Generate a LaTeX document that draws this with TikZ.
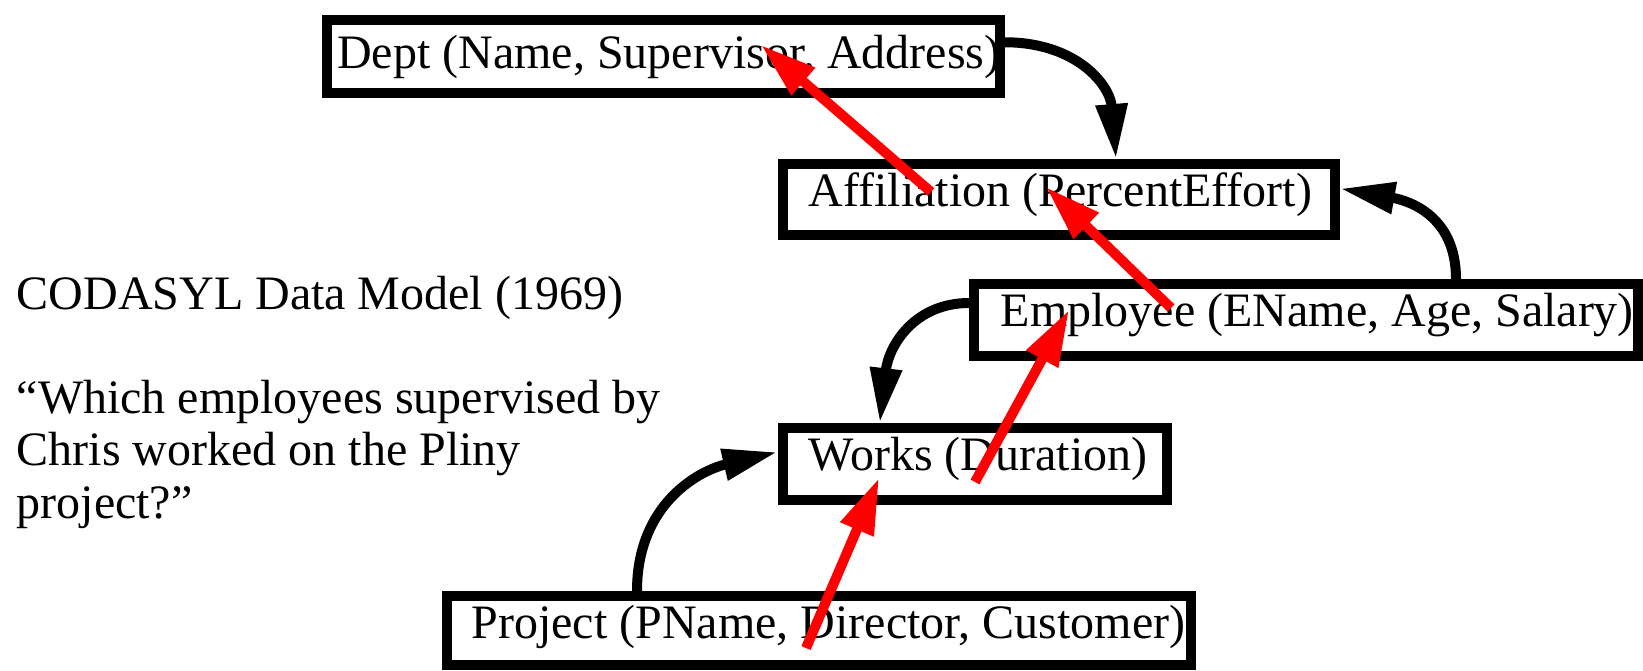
\documentclass[tikz,border=0pt]{standalone}
\usepackage{fontspec}
\setmainfont{Liberation Serif}
\usetikzlibrary{arrows.meta}
\begin{document}
\begin{tikzpicture}[x=1pt,y=-1pt,
  record/.style={draw=black, line width=10pt, inner sep=0pt, rectangle},
  txt/.style={anchor=base west, inner sep=0pt, font=\fontsize{48}{52.5}\selectfont},
  link/.style={black, line width=10pt, -{Triangle[length=55pt,width=30pt]}},
  query/.style={red, line width=10pt, -{Triangle[length=56pt,width=34pt]}}]
\useasboundingbox (0,0) rectangle (1643,670);

% record types
\node[record, minimum width=672.5pt, minimum height=72.5pt] (dept) at (663.25,56.25) {};
\node[record, minimum width=552pt, minimum height=71pt] (aff) at (1059,199.5) {};
\node[record, minimum width=664pt, minimum height=72pt] (emp) at (1306,320) {};
\node[record, minimum width=384.5pt, minimum height=72pt] (works) at (974.75,464) {};
\node[record, minimum width=744pt, minimum height=69pt] (proj) at (819,630.5) {};

\node[txt] (deptT) at (337,68.3) {Dept (Name, Supervisor, Address)};
\node[txt] (affT) at (808.6,206) {Affiliation (PercentEffort)};
\node[txt] (empT) at (1000.6,326) {Employee (EName, Age, Salary)};
\node[txt] (worksT) at (808.7,470) {Works (Duration)};
\node[txt] (projT) at (471.4,638.3) {Project (PName, Director, Customer)};

% caption and query
\node[txt] (title) at (16.5,309) {CODASYL Data Model (1969)};
\node[txt] (question) at (16.5,413) {\vtop{\hbox{“Which employees supervised by}\hbox{Chris worked on the Pliny}\hbox{project?”}}};

% owner/member set links
\coordinate (dOut) at ([yshift=14pt]dept.east);
\coordinate (aIn) at ([xshift=57pt]aff.north);
\coordinate (eUp) at ([xshift=150pt]emp.north);
\coordinate (aRight) at ([yshift=11pt]aff.east);
\coordinate (eLeft) at ([yshift=17pt]emp.west);
\coordinate (wTop) at ([xshift=-95pt]works.north);
\coordinate (pUp) at ([xshift=-182pt]proj.north);
\coordinate (wLeft) at ([yshift=12pt]works.west);

\draw[link] (dOut) .. controls +(72,0) and +(-6,-74) .. (aIn);
\draw[link] (eUp) .. controls +(0,-64) and +(68,12) .. (aRight);
\draw[link] (eLeft) .. controls +(-54,0) and +(9,-78) .. (wTop);
\draw[link] (pUp) .. controls +(0,-86) and +(-80,19) .. (wLeft);

% navigation path of the query
\coordinate (q1s) at (931,192);
\coordinate (q1e) at (761,45);
\coordinate (q2s) at (1171,308);
\coordinate (q2e) at (1046,187);
\coordinate (q3s) at (975,482);
\coordinate (q3e) at (1069,310);
\coordinate (q4s) at (806,648);
\coordinate (q4e) at (879,478);

\draw[query] (q1s) -- (q1e);
\draw[query] (q2s) -- (q2e);
\draw[query] (q3s) -- (q3e);
\draw[query] (q4s) -- (q4e);
\end{tikzpicture}
\end{document}
